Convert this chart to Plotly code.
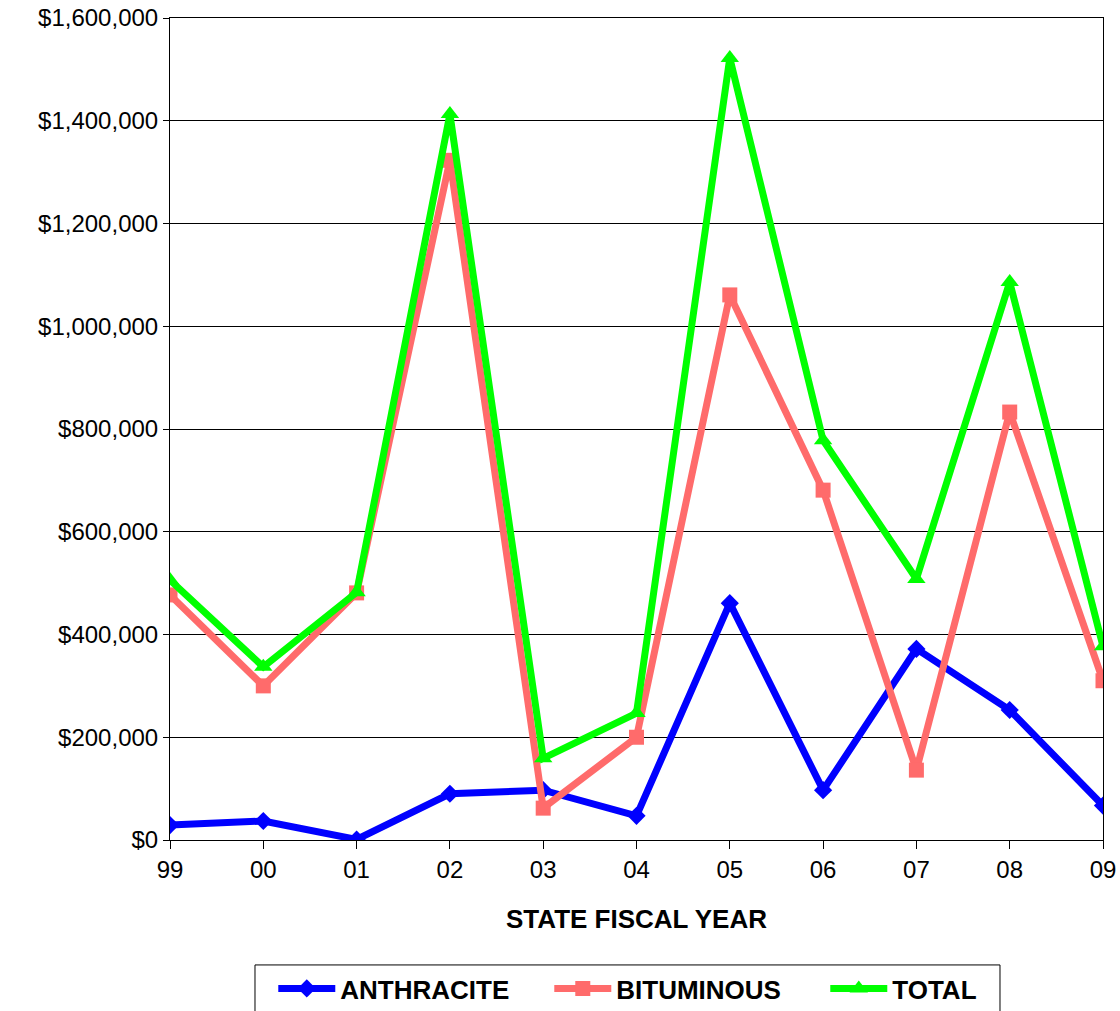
import plotly.graph_objects as go

# Données (dollars)
years = ["99", "00", "01", "02", "03", "04", "05", "06", "07", "08", "09"]
anthracite = [29000, 37000, 1000, 90000, 97000, 47000, 461000, 97000, 372000, 253000, 67000]
bituminous = [477000, 300000, 481000, 1323000, 62000, 200000, 1061000, 681000, 136000, 833000, 310000]
total = [506000, 337000, 482000, 1413000, 159000, 247000, 1522000, 778000, 508000, 1086000, 377000]

y_ticks = [0, 200000, 400000, 600000, 800000, 1000000, 1200000, 1400000, 1600000]

FONT = "Liberation Sans, Arial, sans-serif"

fig = go.Figure()

fig.add_trace(go.Scatter(
    x=years, y=anthracite, name="ANTHRACITE", mode="lines+markers",
    line=dict(color="#0000FF", width=7),
    marker=dict(symbol="diamond", size=14, color="#0000FF"),
))
fig.add_trace(go.Scatter(
    x=years, y=bituminous, name="BITUMINOUS", mode="lines+markers",
    line=dict(color="#FF6B6B", width=7),
    marker=dict(symbol="square", size=15, color="#FF6B6B"),
))
fig.add_trace(go.Scatter(
    x=years, y=total, name="TOTAL", mode="lines+markers",
    line=dict(color="#00FF00", width=7),
    marker=dict(symbol="triangle-up", size=16, color="#00FF00"),
))

# cadre de la légende
fig.add_shape(
    type="rect", xref="paper", yref="paper",
    x0=0.0911, x1=0.8896, y0=-0.25, y1=-0.152,
    line=dict(color="black", width=1), fillcolor="rgba(0,0,0,0)",
)

fig.update_layout(
    width=1120,
    height=1011,
    margin=dict(l=170, r=17, t=18, b=171),
    plot_bgcolor="white",
    paper_bgcolor="white",
    font=dict(family=FONT, size=26, color="black"),
    showlegend=True,
    legend=dict(
        orientation="h",
        x=0.1107, xanchor="left",
        yref="container", y=0.0455, yanchor="top",
        borderwidth=0, bgcolor="rgba(0,0,0,0)",
        font=dict(family=FONT, size=26, color="black", weight="bold"),
        itemwidth=57,
        entrywidth=204,
    ),
    xaxis=dict(
        type="category",
        range=[0, len(years) - 1],
        automargin=False,
        ticklabeloverflow="allow",
        showline=True, linecolor="black", linewidth=1, mirror=True,
        ticks="outside", ticklen=8, tickcolor="black",
        showgrid=False,
        tickfont=dict(size=24),
        title=dict(text="<b>STATE FISCAL YEAR</b>", font=dict(size=26), standoff=28),
    ),
    yaxis=dict(
        range=[0, 1600000],
        tickvals=y_ticks,
        tickformat="$,.0f",
        automargin=False,
        ticklabeloverflow="allow",
        showline=True, linecolor="black", linewidth=1, mirror=True,
        ticks="outside", ticklen=6, tickcolor="black",
        showgrid=True, gridcolor="black", gridwidth=1,
        zeroline=False,
        tickfont=dict(size=24),
    ),
)

# pas de marge de page autour du graphique, pas de barre d'outils
fig.write_html(
    "out.html",
    config={"displayModeBar": False},
    post_script="document.body.style.margin = '0';",
)
